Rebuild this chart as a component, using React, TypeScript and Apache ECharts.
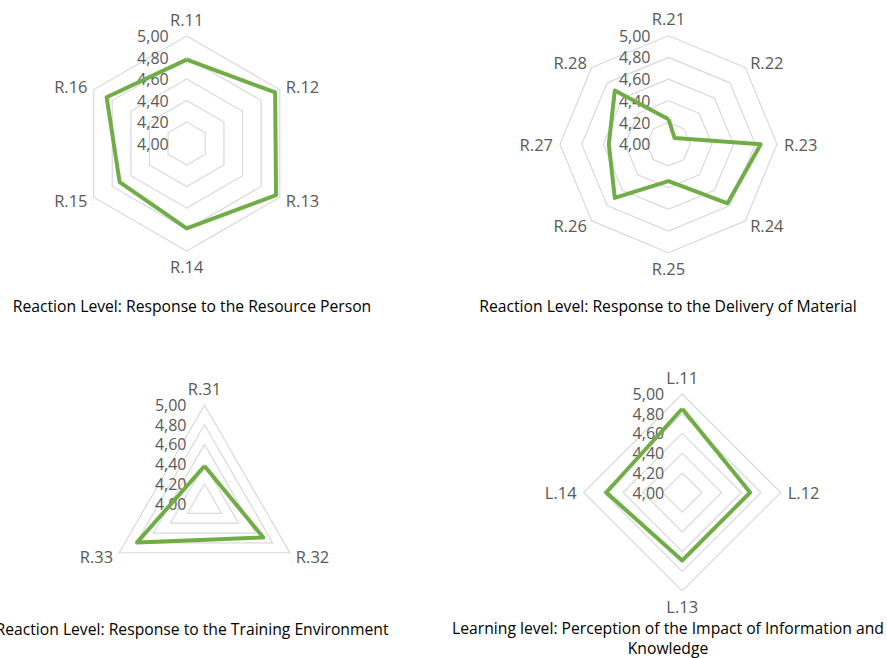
import React, { useEffect, useRef } from "react";
import * as echarts from "echarts";

const FONT = "'Open Sans', 'Noto Sans', sans-serif";

const axes1 = ["R.11", "R.12", "R.13", "R.14", "R.15", "R.16"];
const values1 = [4.78, 4.95, 4.96, 4.79, 4.72, 4.86];

const axes2 = ["R.21", "R.22", "R.23", "R.24", "R.25", "R.26", "R.27", "R.28"];
const values2 = [4.23, 4.08, 4.85, 4.77, 4.34, 4.70, 4.55, 4.70];

const axes3 = ["R.31", "R.32", "R.33"];
const values3 = [4.38, 4.69, 4.79];

const axes4 = ["L.11", "L.12", "L.13", "L.14"];
const values4 = [4.85, 4.69, 4.69, 4.77];

const titles = [
  "Reaction Level: Response to the Resource Person",
  "Reaction Level: Response to the Delivery of Material",
  "Reaction Level: Response to the Training Environment",
  "Learning level: Perception of the Impact of Information and\nKnowledge",
];

const scaleMin = 4;
const scaleMax = 5;
const splits = 5;

// ECharts lays indicators counter-clockwise; Excel goes clockwise.
function clockwise<T>(arr: T[]): T[] {
  return [arr[0], ...arr.slice(1).reverse()];
}

const layouts = [
  { center: [186.7, 143.5], radius: 107.5, title: [192, 296] },
  { center: [668.5, 144.2], radius: 108.5, title: [668, 296] },
  { center: [204.5, 503.5], radius: 98.5, title: [192, 619] },
  { center: [682.2, 492.5], radius: 98.5, title: [668, 618] },
];

const charts = [
  { axes: axes1, values: values1 },
  { axes: axes2, values: values2 },
  { axes: axes3, values: values3 },
  { axes: axes4, values: values4 },
];

export default function App() {
  const ref = useRef<HTMLDivElement>(null);
  useEffect(() => {
    if (!ref.current) return;
    const chart = echarts.init(ref.current, undefined, { renderer: "svg" });
    const radar = charts.map((c, i) => ({
      center: layouts[i].center,
      radius: layouts[i].radius,
      startAngle: 90,
      shape: "polygon",
      splitNumber: splits,
      nameGap: 7,
      indicator: clockwise(c.axes).map((n, k) => ({
        name: n,
        min: scaleMin,
        max: scaleMax,
        axisLabel: { show: k === 0 },
      })),
      axisName: { color: "#595959", fontSize: 16.5, fontFamily: FONT },
      axisLine: { show: false },
      axisTick: { show: false },
      splitArea: { show: false },
      splitLine: { lineStyle: { color: "#d9d9d9", width: 1.2 } },
      axisLabel: {
        show: true,
        margin: 18,
        color: "#595959",
        fontSize: 16,
        lineHeight: 17,
        fontFamily: FONT,
        formatter: (v: number) => v.toFixed(2).replace(".", ","),
      },
    }));
    const series = charts.map((c, i) => ({
      type: "radar",
      radarIndex: i,
      symbol: "none",
      lineStyle: { color: "#70ad47", width: 4 },
      data: [{ value: clockwise(c.values) }],
    }));
    const title = titles.map((t, i) => ({
      text: t,
      left: layouts[i].title[0],
      top: layouts[i].title[1],
      textAlign: "center",
      padding: 0,
      textStyle: {
        fontSize: 15.7,
        fontWeight: "normal",
        color: "#000",
        fontFamily: FONT,
        lineHeight: 20,
      },
    }));
    chart.setOption({ animation: false, title, radar, series });
    return () => chart.dispose();
  }, []);
  return (
    <div
      ref={ref}
      style={{ position: "absolute", left: 0, top: 0, width: 887, height: 658, background: "#fff" }}
    />
  );
}
